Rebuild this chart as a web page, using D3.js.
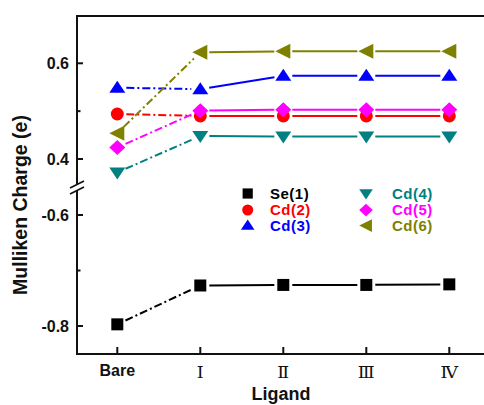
<!DOCTYPE html>
<html><head><meta charset="utf-8">
<script src="https://cdn.jsdelivr.net/npm/d3@7"></script>
<style>body{margin:0;background:#fff}svg{display:block}</style>
</head><body>
<script>
const categories = ["Bare", "Ⅰ", "Ⅱ", "Ⅲ", "Ⅳ"];
const seriesNames = ["Se(1)", "Cd(2)", "Cd(3)", "Cd(4)", "Cd(5)", "Cd(6)"];
const se1 = [-0.797, -0.727, -0.726, -0.726, -0.725];
const cd2 = [0.494, 0.490, 0.490, 0.490, 0.490];
const cd3 = [0.549, 0.546, 0.574, 0.574, 0.574];
const cd4 = [0.372, 0.448, 0.447, 0.447, 0.447];
const cd5 = [0.424, 0.501, 0.503, 0.503, 0.503];
const cd6 = [0.454, 0.623, 0.625, 0.625, 0.625];
const upperTicks = [0.4, 0.5, 0.6];
const lowerTicks = [-0.8, -0.7, -0.6];
const majorTickLabels = {"0.4": "0.4", "0.6": "0.6", "-0.6": "-0.6", "-0.8": "-0.8"};

const colors = ["#000000", "#ff0000", "#0000ff", "#008080", "#ff00ff", "#808000"];
const shapes = ["square", "circle", "triUp", "triDown", "diamond", "triLeft"];
const seriesValues = [se1, cd2, cd3, cd4, cd5, cd6];

const W = 484, H = 405;
const mLeft = 77, mTop = 16, mBottom = 354, mRight = 484;
const svg = d3.select("body").append("svg").attr("width", W).attr("height", H);

const x = d3.scalePoint().domain(categories).range([117.3, 449.3]);
const yUp = d3.scaleLinear().domain([0.4, 0.6]).range([159, 63.3]);
const yLo = d3.scaleLinear().domain([-0.8, -0.6]).range([326, 215]);
const yOf = v => v >= 0 ? yUp(v) : yLo(v);

function symbolPath(shape) {
  switch (shape) {
    case "square": return "M-6,-6H6V6H-6Z";
    case "circle": return "M-6.5,0A6.5,6.5 0 1,0 6.5,0A6.5,6.5 0 1,0 -6.5,0Z";
    case "triUp": return "M0,-7L8,5L-8,5Z";
    case "triDown": return "M0,7L8,-5L-8,-5Z";
    case "diamond": return "M0,-7.5L8,0L0,7.5L-8,0Z";
    case "triLeft": return "M-8,0L7,-7.5L7,7.5Z";
  }
}

// frame
const axisColor = "#111";
svg.append("line").attr("x1", mLeft).attr("x2", mRight).attr("y1", mTop).attr("y2", mTop)
  .attr("stroke", axisColor).attr("stroke-width", 2);
svg.append("line").attr("x1", mLeft - 1).attr("x2", mRight).attr("y1", mBottom).attr("y2", mBottom)
  .attr("stroke", axisColor).attr("stroke-width", 2);
svg.append("line").attr("x1", mLeft).attr("x2", mLeft).attr("y1", mTop - 1).attr("y2", 184)
  .attr("stroke", axisColor).attr("stroke-width", 2);
svg.append("line").attr("x1", mLeft).attr("x2", mLeft).attr("y1", 191).attr("y2", mBottom + 1)
  .attr("stroke", axisColor).attr("stroke-width", 2);
// break marks
svg.append("line").attr("x1", 70).attr("y1", 188).attr("x2", 84).attr("y2", 181)
  .attr("stroke", axisColor).attr("stroke-width", 1.8);
svg.append("line").attr("x1", 70).attr("y1", 194).attr("x2", 84).attr("y2", 187)
  .attr("stroke", axisColor).attr("stroke-width", 1.8);

// y ticks
function yTicks(ticks, scale) {
  ticks.forEach(t => {
    const key = String(t);
    const major = key in majorTickLabels;
    const yy = scale(t);
    svg.append("line").attr("x1", mLeft).attr("x2", mLeft + (major ? 6 : 3.5))
      .attr("y1", yy).attr("y2", yy).attr("stroke", axisColor).attr("stroke-width", 2);
    if (major) {
      svg.append("text").attr("x", 69).attr("y", yy).attr("dy", "0.36em")
        .attr("text-anchor", "end").attr("font-family", "Liberation Sans, Arial, sans-serif")
        .attr("font-weight", "bold").attr("font-size", 16).attr("fill", "#111")
        .text(majorTickLabels[key]);
    }
  });
}
yTicks(upperTicks, yUp);
yTicks(lowerTicks, yLo);

// x ticks
categories.forEach((c, i) => {
  const xx = x(c);
  svg.append("line").attr("x1", xx).attr("x2", xx).attr("y1", mBottom).attr("y2", mBottom - 7)
    .attr("stroke", axisColor).attr("stroke-width", 2);
  const t = svg.append("text").attr("x", xx).attr("text-anchor", "middle").attr("fill", "#111").text(c);
  if (i === 0) {
    t.attr("y", 376).attr("font-family", "Liberation Sans, Arial, sans-serif")
      .attr("font-weight", "bold").attr("font-size", 16);
  } else {
    t.attr("y", 378).attr("font-family", "DejaVu Serif, Liberation Serif, serif")
      .attr("font-size", 17.5);
  }
});

// axis titles
svg.append("text").attr("x", 281).attr("y", 400).attr("text-anchor", "middle")
  .attr("font-family", "Liberation Sans, Arial, sans-serif").attr("font-weight", "bold")
  .attr("font-size", 18).attr("fill", "#111").text("Ligand");
svg.append("text").attr("transform", "translate(27,205) rotate(-90)").attr("text-anchor", "middle")
  .attr("font-family", "Liberation Sans, Arial, sans-serif").attr("font-weight", "bold")
  .attr("font-size", 19.5).attr("fill", "#111").text("Mulliken Charge (e)");

// series
const gap = 9;
seriesValues.forEach((vals, si) => {
  const g = svg.append("g");
  const pts = vals.map((v, i) => [x(categories[i]), yOf(v)]);
  for (let i = 0; i < pts.length - 1; i++) {
    const [x0, y0] = pts[i], [x1, y1] = pts[i + 1];
    const dx = x1 - x0, dy = y1 - y0, len = Math.hypot(dx, dy);
    const ux = dx / len, uy = dy / len;
    g.append("line")
      .attr("x1", x0 + ux * gap).attr("y1", y0 + uy * gap)
      .attr("x2", x1 - ux * gap).attr("y2", y1 - uy * gap)
      .attr("stroke", colors[si]).attr("stroke-width", 2)
      .attr("stroke-dasharray", i === 0 ? "8,3,2,3" : null);
  }
  pts.forEach(p => {
    g.append("path").attr("d", symbolPath(shapes[si]))
      .attr("transform", `translate(${p[0]},${p[1]})`).attr("fill", colors[si]);
  });
});

// legend
const legCols = [[247.7, 270], [366, 392]];
const legRows = [193.5, 210, 225.5];
seriesNames.forEach((n, i) => {
  const col = Math.floor(i / 3), row = i % 3;
  const [sx, tx] = legCols[col];
  const yy = legRows[row];
  svg.append("path").attr("d", symbolPath(shapes[i]))
    .attr("transform", `translate(${sx},${yy}) scale(0.85)`).attr("fill", colors[i]);
  svg.append("text").attr("x", tx).attr("y", yy).attr("dy", "0.36em")
    .attr("font-family", "Liberation Sans, Arial, sans-serif").attr("font-weight", "bold")
    .attr("font-size", 15).attr("letter-spacing", 0.5).attr("fill", colors[i]).text(n);
});
</script>
</body></html>
